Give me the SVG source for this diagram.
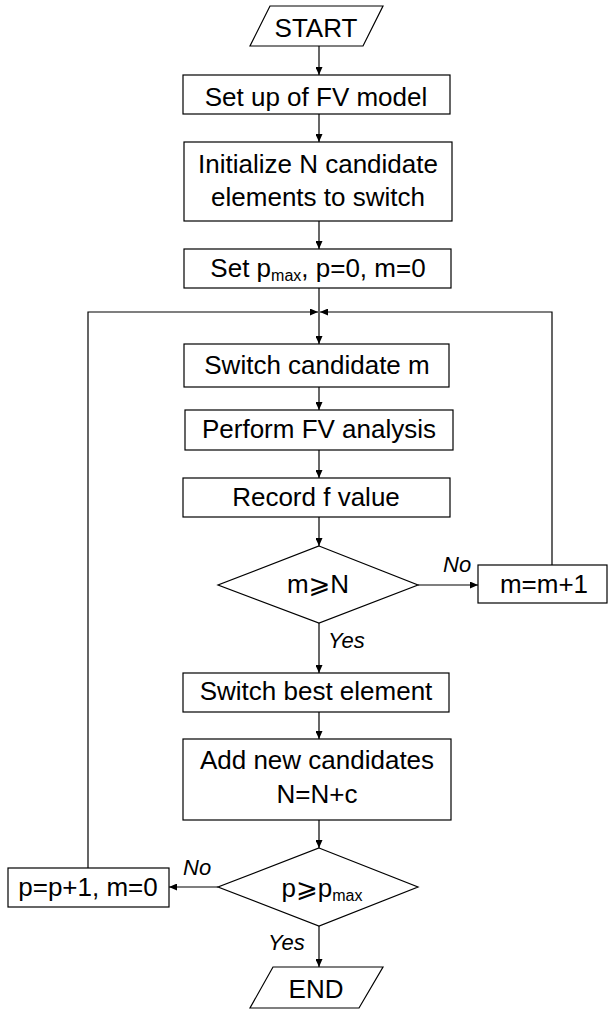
<svg xmlns="http://www.w3.org/2000/svg" width="610" height="1011" viewBox="0 0 610 1011">
<style>
.n{fill:#fff;stroke:#000;stroke-width:1.2}
.t{font-family:"Liberation Sans","DejaVu Sans",Arial,sans-serif;font-size:26px;fill:#000;text-anchor:middle}
.s{font-size:16px}
.l{font-family:"Liberation Sans",Arial,sans-serif;font-size:22px;font-style:italic;fill:#000}
.c{fill:none;stroke:#000;stroke-width:1.2}
</style>
<defs>
<marker id="a" markerUnits="userSpaceOnUse" markerWidth="9" markerHeight="7" refX="8" refY="3.5" orient="auto">
<path d="M0,0 L8,3.5 L0,7 z" fill="#000"/>
</marker>
</defs>
<g id="connectors">
<line class="c" x1="319" y1="46" x2="319" y2="75" marker-end="url(#a)"/>
<line class="c" x1="319" y1="114" x2="319" y2="142" marker-end="url(#a)"/>
<line class="c" x1="319" y1="221" x2="319" y2="249" marker-end="url(#a)"/>
<line class="c" x1="319" y1="288" x2="319" y2="344" marker-end="url(#a)"/>
<polyline class="c" points="88,868 88,312 318,312" marker-end="url(#a)"/>
<polyline class="c" points="552,565 552,312 320,312" marker-end="url(#a)"/>
<line class="c" x1="319" y1="387" x2="319" y2="410" marker-end="url(#a)"/>
<line class="c" x1="319" y1="450" x2="319" y2="478" marker-end="url(#a)"/>
<line class="c" x1="319" y1="517" x2="319" y2="546" marker-end="url(#a)"/>
<line class="c" x1="418" y1="585" x2="478" y2="585" marker-end="url(#a)"/>
<line class="c" x1="319" y1="623" x2="319" y2="673" marker-end="url(#a)"/>
<line class="c" x1="319" y1="712" x2="319" y2="739" marker-end="url(#a)"/>
<line class="c" x1="319" y1="820" x2="319" y2="848" marker-end="url(#a)"/>
<line class="c" x1="218" y1="887" x2="169" y2="887" marker-end="url(#a)"/>
<line class="c" x1="319" y1="926" x2="319" y2="967" marker-end="url(#a)"/>
<text class="l" x="443" y="572">No</text>
<text class="l" x="328" y="648">Yes</text>
<text class="l" x="183" y="875">No</text>
<text class="l" x="268" y="950">Yes</text>
</g>
<g id="start">
<polygon class="n" points="270,6 383,6 363,46 250,46"/>
<text class="t" x="316" y="37">START</text>
</g>
<g id="setup">
<rect class="n" x="183" y="75" width="267" height="39"/>
<text class="t" x="316" y="106">Set up of FV model</text>
</g>
<g id="init">
<rect class="n" x="184" y="142" width="268" height="79"/>
<text class="t" x="318" y="173">Initialize N candidate</text>
<text class="t" x="318" y="206">elements to switch</text>
</g>
<g id="setp">
<rect class="n" x="184" y="249" width="267" height="39"/>
<text class="t" x="318" y="277">Set p<tspan class="s" dy="4">max</tspan><tspan dy="-4">, p=0, m=0</tspan></text>
</g>
<g id="switchm">
<rect class="n" x="184" y="344" width="265" height="43"/>
<text class="t" x="317" y="374">Switch candidate m</text>
</g>
<g id="perform">
<rect class="n" x="185" y="410" width="268" height="40"/>
<text class="t" x="319" y="438">Perform FV analysis</text>
</g>
<g id="record">
<rect class="n" x="183" y="478" width="267" height="39"/>
<text class="t" x="316" y="506">Record f value</text>
</g>
<g id="dec1">
<polygon class="n" points="319,546 418,585 319,623 218,585"/>
<text class="t" x="318" y="593">m⩾N</text>
</g>
<g id="mplus">
<rect class="n" x="478" y="565" width="129" height="38"/>
<text class="t" x="544" y="593">m=m+1</text>
</g>
<g id="best">
<rect class="n" x="183" y="673" width="266" height="39"/>
<text class="t" x="316" y="700">Switch best element</text>
</g>
<g id="add">
<rect class="n" x="183" y="739" width="268" height="81"/>
<text class="t" x="317" y="769">Add new candidates</text>
<text class="t" x="317" y="803">N=N+c</text>
</g>
<g id="dec2">
<polygon class="n" points="319,848 418,887 319,926 218,887"/>
<text class="t" x="322" y="897">p⩾p<tspan class="s" dy="4">max</tspan></text>
</g>
<g id="pplus">
<rect class="n" x="8" y="868" width="161" height="39"/>
<text class="t" x="88" y="896">p=p+1, m=0</text>
</g>
<g id="end">
<polygon class="n" points="273,967 383,967 359,1008 250,1008"/>
<text class="t" x="316" y="998">END</text>
</g>
</svg>
